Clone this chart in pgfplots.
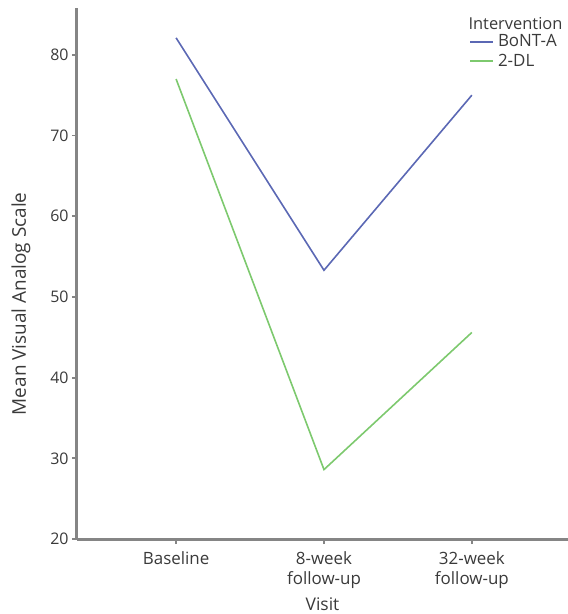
\documentclass[border=0pt]{standalone}
\usepackage{fontspec}
\setmainfont{Open Sans}
\usepackage{pgfplots}
\pgfplotsset{compat=1.18}

\definecolor{bontblue}{HTML}{5B68B4}
\definecolor{dlgreen}{HTML}{7DC96E}
\definecolor{axgrey}{HTML}{858585}
\definecolor{txtgrey}{HTML}{3A3A3A}

\begin{document}
\begin{tikzpicture}
\begin{axis}[
  name=ax,
  scale only axis,
  width=491bp, height=531bp,
  xmin=-0.67, xmax=2.65,
  ymin=20, ymax=85.8,
  axis x line*=bottom,
  axis y line*=left,
  axis line style={draw=axgrey, line width=3bp},
  x axis line style={draw=axgrey, line width=3bp},
  y axis line style={draw=axgrey, line width=3bp},
  xtick={0,1,2},
  xticklabels={Baseline, 8-week\\follow-up, 32-week\\follow-up},
  x tick label style={align=center, font=\fontsize{17}{20}\selectfont, text=txtgrey, yshift=-4bp},
  ytick={20,30,...,80},
  y tick label style={font=\fontsize{16}{18}\selectfont, text=txtgrey},
  tick style={draw=axgrey, line width=1.8bp},
  tick align=outside,
  major tick length=5bp,
  xlabel={Visit},
  ylabel={Mean Visual Analog Scale},
  every axis x label/.style={at={(rel axis cs:0.5,0)}, anchor=center, yshift=-65bp,
    font=\fontsize{17.5}{20}\selectfont, text=txtgrey},
  every axis y label/.style={at={(rel axis cs:0,0.443)}, rotate=90, anchor=center, yshift=56bp,
    font=\fontsize{19}{21}\selectfont, text=txtgrey},
  /pgf/number format/assume math mode=true,
  legend style={draw=none, fill=none, at={(rel axis cs:0.798,0.952)}, anchor=north west,
    font=\fontsize{17}{19}\selectfont, text=txtgrey, row sep=4bp,
    inner sep=0pt, nodes={inner sep=1bp}},
  legend cell align=left,
  legend image code/.code={\draw[#1, line width=2bp] (0bp,0bp) -- (23bp,0bp);},
  every axis plot/.append style={line width=1.6bp},
  clip=false,
]
\addplot[bontblue] coordinates {(0,82.1) (1,53.3) (2,75.0)};
\addlegendentry{\hspace{3bp}BoNT-A}
\addplot[dlgreen] coordinates {(0,77.0) (1,28.6) (2,45.6)};
\addlegendentry{\hspace{3bp}2-DL}
\node[anchor=west, font=\fontsize{16.5}{18}\selectfont, text=txtgrey, inner sep=0pt]
  at (rel axis cs:0.797,0.970) {Intervention};
\end{axis}
\pgfresetboundingbox
\path ([xshift=-77bp,yshift=-75bp]ax.south west) rectangle ([yshift=8bp]ax.north east);
\end{tikzpicture}
\end{document}
